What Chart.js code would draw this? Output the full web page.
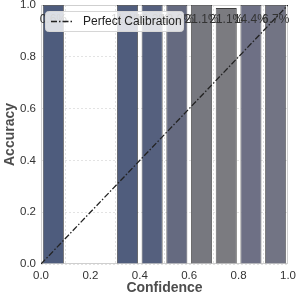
<!DOCTYPE html>
<html>
<head>
<meta charset="utf-8">
<script src="https://cdn.jsdelivr.net/npm/chart.js@4/dist/chart.umd.min.js"></script>
<style>
  html, body { margin: 0; padding: 0; background: #fff; }
  #wrap { width: 297px; height: 297px; }
</style>
</head>
<body>
<div id="wrap"><canvas id="calibChart" width="297" height="297"></canvas></div>
<script>
// reliability diagram data (bin centers, accuracy, share of samples)
const binCenters = [0.05, 0.35, 0.45, 0.55, 0.65, 0.75, 0.85, 0.95];
const binAccuracy = [1.0, 1.0, 1.0, 1.0, 1.0, 0.988, 1.0, 1.0];
const binShare = ['0.6%', '11.1%', '12.2%', '12.8%', '21.1%', '21.1%', '14.4%', '6.7%'];
const binColors = ['#4e5c7d', '#505d7d', '#55607e', '#656a80', '#77787f', '#7b7b80', '#6e7085', '#727484'];
const diagX = [0, 1];
const diagY = [0, 1];
const axisTicks = [0, 0.2, 0.4, 0.6, 0.8, 1.0];
const labelLevel = 0.945;

const FONT = "'Liberation Sans', Arial, sans-serif";

// frame around plot area (matplotlib style spines)
const framePlugin = {
    id: 'frame',
    beforeDatasetsDraw: (chart) => {
        const { ctx, chartArea: a } = chart;
        ctx.save();
        ctx.strokeStyle = '#cfcfcf';
        ctx.lineWidth = 1;
        ctx.strokeRect(a.left + 0.5, a.top + 0.5, a.right - a.left - 1, a.bottom - a.top - 1);
        ctx.restore();
    }
};

// percentage labels over each bar
const shareLabels = {
    id: 'shareLabels',
    afterDatasetsDraw: (chart) => {
        const { ctx, scales } = chart;
        ctx.save();
        ctx.font = '12px ' + FONT;
        ctx.fillStyle = '#333';
        ctx.textAlign = 'center';
        ctx.textBaseline = 'middle';
        const y = scales.y.getPixelForValue(labelLevel);
        binCenters.forEach((c, i) => {
            ctx.fillText(binShare[i], scales.x.getPixelForValue(c), y);
        });
        ctx.restore();
    }
};

// legend box drawn on top, top-left
const legendBox = {
    id: 'legendBox',
    afterDraw: (chart) => {
        const { ctx, chartArea: a } = chart;
        const x = a.left + 4, y = a.top + 6, w = 138, h = 20, r = 3;
        ctx.save();
        ctx.beginPath();
        ctx.roundRect(x + 0.5, y + 0.5, w, h, r);
        ctx.fillStyle = 'rgba(255,255,255,0.8)';
        ctx.fill();
        ctx.strokeStyle = '#d6d6d6';
        ctx.lineWidth = 1;
        ctx.stroke();
        ctx.beginPath();
        ctx.setLineDash([6, 2, 1.5, 2]);
        ctx.strokeStyle = '#222';
        ctx.lineWidth = 1.3;
        ctx.moveTo(x + 6, y + h / 2 + 0.5);
        ctx.lineTo(x + 28, y + h / 2 + 0.5);
        ctx.stroke();
        ctx.setLineDash([]);
        ctx.font = '12px ' + FONT;
        ctx.fillStyle = '#222';
        ctx.textBaseline = 'middle';
        ctx.fillText('Perfect Calibration', x + 38, y + h / 2 + 1);
        ctx.restore();
    }
};

const ctx = document.getElementById('calibChart').getContext('2d');
new Chart(ctx, {
    data: {
        datasets: [
            {
                type: 'line',
                label: 'Perfect Calibration',
                data: diagX.map((v, i) => ({ x: v, y: diagY[i] })),
                borderColor: '#222',
                borderWidth: 1.3,
                borderDash: [6, 2, 1.5, 2],
                pointRadius: 0,
                order: 0
            },
            {
                type: 'bar',
                label: 'Accuracy',
                data: binCenters.map((c, i) => ({ x: c, y: binAccuracy[i] })),
                backgroundColor: binColors,
                borderColor: '#3d3d3d',
                borderWidth: 0.8,
                barPercentage: 0.85,
                categoryPercentage: 1,
                order: 1
            }
        ]
    },
    options: {
        responsive: false,
        animation: false,
        devicePixelRatio: 1,
        layout: { padding: { left: 2, right: 9, top: 5, bottom: 0 } },
        plugins: {
            legend: { display: false },
            tooltip: { enabled: false }
        },
        scales: {
            x: {
                type: 'linear',
                min: 0, max: 1,
                offset: false,
                afterFit: (s) => { s.height = 33; s.paddingRight = 0; s.paddingLeft = 0; },
                afterBuildTicks: (s) => { s.ticks = axisTicks.map(v => ({ value: v })); },
                ticks: { color: '#333', font: { family: FONT, size: 11.5 }, padding: 5, maxRotation: 0,
                         callback: (v) => Number(v).toFixed(1) },
                grid: { color: '#e3e3e3', drawTicks: false, tickLength: 0 },
                border: { display: false, dash: [2, 2] },
                title: { display: true, text: 'Confidence', color: '#4d4d4d',
                         font: { family: FONT, size: 14, weight: 'bold' }, padding: { top: 0, bottom: 0 } }
            },
            y: {
                min: 0, max: 1,
                afterFit: (s) => { s.width = 39; s.paddingTop = 0; s.paddingBottom = 0; },
                afterBuildTicks: (s) => { s.ticks = axisTicks.map(v => ({ value: v })); },
                ticks: { color: '#333', font: { family: FONT, size: 11.5 }, padding: 5,
                         callback: (v) => Number(v).toFixed(1) },
                grid: { color: '#e3e3e3', drawTicks: false, tickLength: 0 },
                border: { display: false, dash: [2, 2] },
                title: { display: true, text: 'Accuracy', color: '#4d4d4d',
                         font: { family: FONT, size: 14, weight: 'bold' }, padding: { top: 0, bottom: 0 } }
            }
        }
    },
    plugins: [framePlugin, shareLabels, legendBox]
});
</script>
</body>
</html>
